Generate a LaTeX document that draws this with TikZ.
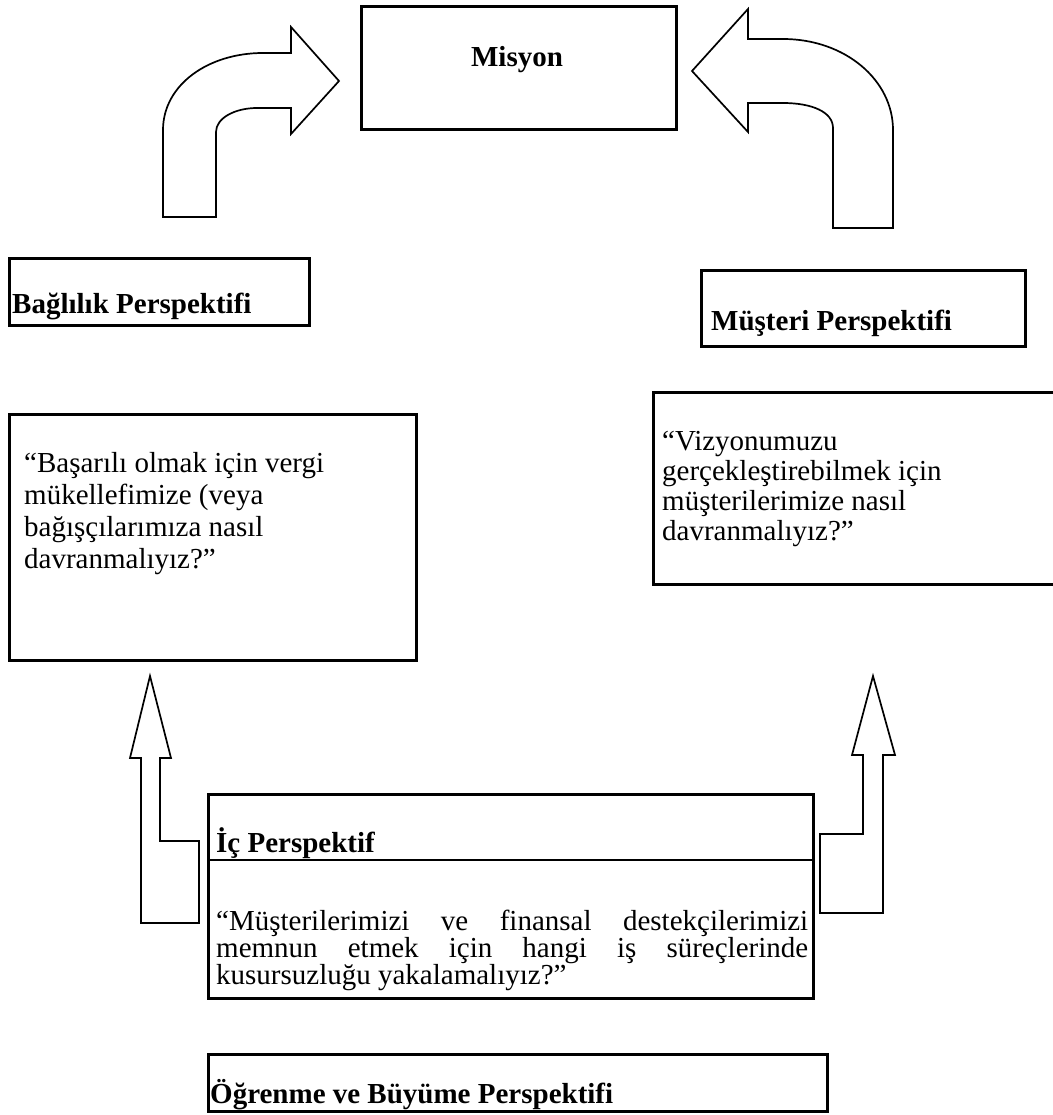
\documentclass[tikz,border=0pt]{standalone}
\usepackage{fontspec}
\setmainfont{Liberation Serif}
\begin{document}
\begin{tikzpicture}[x=1pt,y=-1pt,line join=miter,
  box/.style={draw=black,line width=2.7pt,inner sep=0pt,anchor=north west},
  blockarrow/.style={draw=black,line width=1.7pt,fill=white},
  body/.style={inner sep=0pt,anchor=base west},
  head/.style={inner sep=0pt,anchor=base west,font=\fontsize{29}{32}\selectfont\bfseries}]
\useasboundingbox (0,0) rectangle (1052,1115);

% boxes
\node[box,minimum width=315pt,minimum height=123pt] (misyonbox) at (360,5) {};
\node[box,minimum width=300pt,minimum height=67pt] (baglilikbox) at (8,257) {};
\node[box,minimum width=324pt,minimum height=76pt] (musteribox) at (700,269) {};
\node[box,minimum width=407pt,minimum height=246pt] (leftq) at (8,413) {};
\node[box,minimum width=402pt,minimum height=192pt] (rightq) at (652,391) {};
\node[box,minimum width=605pt,minimum height=204pt] (icbox) at (207,793) {};
\coordinate (divL) at (207,860);
\coordinate (divR) at (812,860);
\draw[line width=2.7pt] (divL) -- (divR);
\node[box,minimum width=619pt,minimum height=57pt] (ogrbox) at (207,1053) {};

% texts
\node[inner sep=0pt,anchor=base,font=\fontsize{29}{32}\selectfont\bfseries] (misyon) at (517,67) {Misyon};
\node[head] (baglilik) at (12,313) {Bağlılık Perspektifi};
\node[head] (musteri) at (711,330) {Müşteri Perspektifi};
\node[head] (ic) at (216,852) {İç Perspektif};
\node[head] (ogrenme) at (210,1103) {Öğrenme ve Büyüme Perspektifi};

\node[body] (leftqtext) at (24,472) {\parbox[t]{385pt}{\fontsize{29}{32}\selectfont
“Başarılı olmak için vergi\\mükellefimize (veya\\bağışçılarımıza nasıl\\davranmalıyız?”}};
\node[body] (rightqtext) at (662,450) {\parbox[t]{385pt}{\fontsize{29}{30}\selectfont
“Vizyonumuzu\\gerçekleştirebilmek için\\müşterilerimize nasıl\\davranmalıyız?”}};
\node[body] (ictext) at (216,930) {\parbox[t]{592pt}{\fontsize{29}{26}\selectfont
\makebox[592pt][s]{“Müşterilerimizi ve finansal destekçilerimizi}\\
\makebox[592pt][s]{memnun etmek için hangi iş süreçlerinde}\\
kusursuzluğu yakalamalıyız?”}};

% bent arrow left (to Misyon)
\draw[blockarrow] (163,217) -- (163,130)
  .. controls (163,85) and (208,53) .. (263,53)
  -- (291,53) -- (291,27) -- (339,81) -- (291,134) -- (291,108) -- (257,108)
  .. controls (235,108) and (216,118) .. (216,132)
  -- (216,217) -- cycle;

% bent arrow right (to Misyon)
\draw[blockarrow] (692,71) -- (748,9) -- (748,39) -- (783,39)
  .. controls (845,39) and (893,80) .. (893,130)
  -- (893,228) -- (833,228) -- (833,128)
  .. controls (833,112) and (812,103) .. (783,103)
  -- (748,103) -- (748,132) -- cycle;

% up arrow left
\draw[blockarrow] (150,676) -- (171,758) -- (160,758) -- (160,841) -- (199,841)
  -- (199,923) -- (141,923) -- (141,758) -- (130,758) -- cycle;

% up arrow right
\draw[blockarrow] (873,676) -- (895,755) -- (883,755) -- (883,913) -- (820,913)
  -- (820,834) -- (863,834) -- (863,755) -- (852,755) -- cycle;
\end{tikzpicture}
\end{document}
